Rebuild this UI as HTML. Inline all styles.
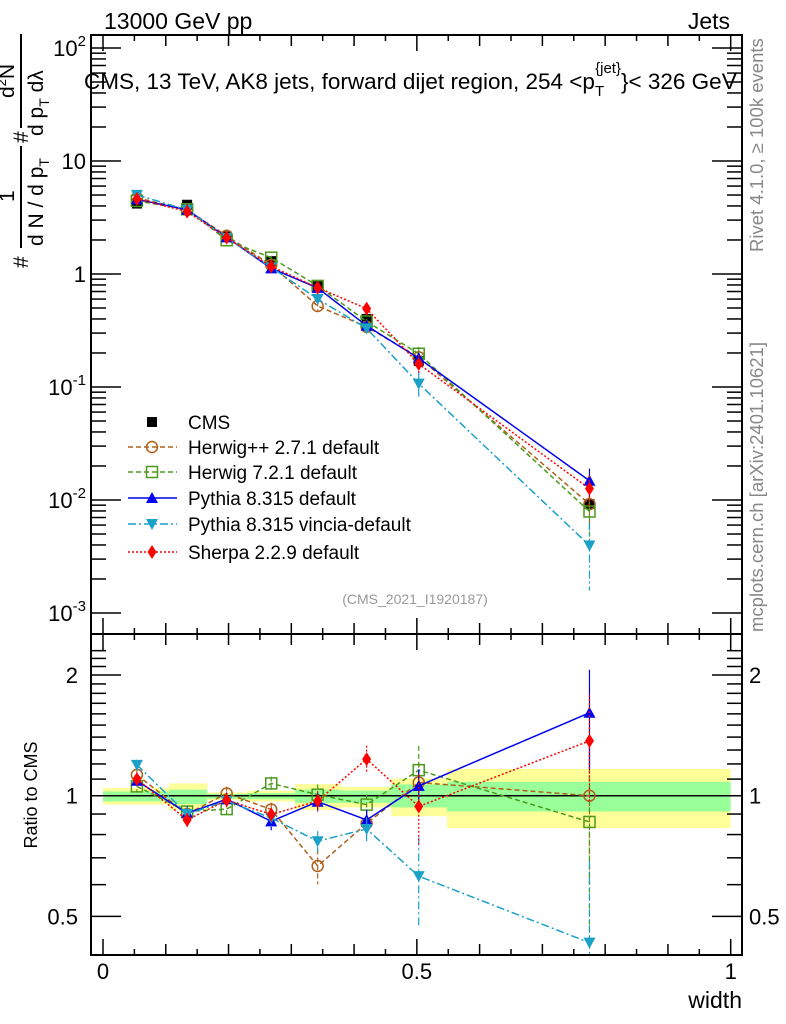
<!DOCTYPE html>
<html><head><meta charset="utf-8"><style>
html,body{margin:0;padding:0;background:#fff;}
svg{display:block;font-family:"Liberation Sans",sans-serif;}
</style></head><body>
<svg id="chart" width="786" height="1024" viewBox="0 0 786 1024" xmlns="http://www.w3.org/2000/svg">
<rect width="786" height="1024" fill="#fff"/>
<g id="bands"></g>
<g id="grid"></g>
<g id="series"></g>
<text x="104" y="29" font-size="23">13000 GeV pp</text>
<text x="730" y="29" font-size="23" text-anchor="end">Jets</text>
<text x="84" y="89" font-size="22.5">CMS, 13 TeV, AK8 jets, forward dijet region, 254 &lt;p<tspan font-size="15" dy="7">T</tspan><tspan font-size="15" dx="-9" dy="-23">{jet}</tspan><tspan dy="16">}&lt; 326 GeV</tspan></text>
<text x="415" y="604" font-size="14" fill="#999" text-anchor="middle">(CMS_2021_I1920187)</text>
<text transform="translate(763,252) rotate(-90)" font-size="18.5" fill="#888">Rivet 4.1.0, ≥ 100k events</text>
<text transform="translate(763,632) rotate(-90)" font-size="18.5" fill="#888">mcplots.cern.ch [arXiv:2401.10621]</text>
<g font-size="21">
<text transform="translate(28,268) rotate(-90)">#</text>
<line x1="21" y1="248" x2="21" y2="146" stroke="#000" stroke-width="2"/>
<text transform="translate(14,202) rotate(-90)">1</text>
<text transform="translate(43,246) rotate(-90)">d N / d p<tspan font-size="14" dy="6">T</tspan></text>
<text transform="translate(28,143) rotate(-90)">#</text>
<line x1="21" y1="128" x2="21" y2="34" stroke="#000" stroke-width="2"/>
<text transform="translate(14,98) rotate(-90)">d<tspan font-size="13" dy="-8">2</tspan><tspan dy="8">N</tspan></text>
<text transform="translate(43,136) rotate(-90)">d p<tspan font-size="14" dy="6">T</tspan><tspan dy="-6"> dλ</tspan></text>
</g>
<text transform="translate(37,795) rotate(-90)" font-size="18" text-anchor="middle">Ratio to CMS</text>
<text x="742" y="1008" font-size="23" text-anchor="end">width</text>
<g id="legend"></g>
</svg>
<script>
const binEdges=[0,0.105,0.166,0.229,0.306,0.379,0.459,0.548,1.0];
const xCenters=[0.054,0.134,0.197,0.268,0.342,0.420,0.503,0.775];
const cmsValues=[4.2,4.1,2.15,1.3,0.78,0.40,0.17,0.0092];
const cmsErr=[0.05,0.05,0.03,0.04,0.05,0.06,0.09,0.12];
const bandTotUp=[0.045,0.073,0.019,0.029,0.069,0.052,0.104,0.166];
const bandTotDn=[0.05,0.079,0.025,0.033,0.079,0.065,0.111,0.17];
const bandStatUp=[0.025,0.035,0.011,0.015,0.035,0.03,0.067,0.083];
const bandStatDn=[0.032,0.047,0.017,0.02,0.04,0.04,0.065,0.087];
const herwigppRatio=[1.127,0.90,1.013,0.924,0.668,0.853,1.079,1.0];
const herwig7Ratio=[1.055,0.913,0.926,1.073,1.006,0.95,1.158,0.86];
const pythiaRatio=[1.09,0.904,0.98,0.863,0.966,0.87,1.058,1.61];
const vinciaRatio=[1.194,0.90,0.97,0.88,0.77,0.826,0.63,0.43];
const sherpaRatio=[1.10,0.87,0.975,0.898,0.97,1.234,0.94,1.37];
const herwigppErr=[0.03,0.03,0.04,0.04,0.1,0.07,0.12,0.4];
const herwig7Err=[0.03,0.03,0.04,0.04,0.06,0.06,0.15,0.5];
const pythiaErr=[0.03,0.04,0.04,0.05,0.05,0.06,0.1,0.28];
const vinciaErr=[0.03,0.04,0.04,0.05,0.06,0.07,0.25,0.6];
const sherpaErr=[0.03,0.04,0.04,0.04,0.06,0.08,0.2,0.3];
const mainTicks=[0.001,0.01,0.1,1,10,100];
const mainTickLabels=["10^-3","10^-2","10^-1","1","10","10^2"];
const ratioTicks=[0.5,1,2];
const ratioTickLabels=["0.5","1","2"];
const xTicks=[0,0.5,1];
const xTickLabels=["0","0.5","1"];

const L=91,R=742,T=35,M=634,B=955;
const X=v=>103+v*627.7;
const YM=v=>274-113*Math.log10(v);
const YR=v=>795.7-120.7*Math.log2(v);
const NS="http://www.w3.org/2000/svg";
function mk(tag,attrs,parent){const e=document.createElementNS(NS,tag);for(const k in attrs)e.setAttribute(k,attrs[k]);parent.appendChild(e);return e;}
const bands=document.getElementById('bands'),grid=document.getElementById('grid'),series=document.getElementById('series'),legend=document.getElementById('legend');

for(let i=0;i<cmsValues.length;i++){
  const x1=X(binEdges[i]),x2=X(binEdges[i+1]);
  const y=mk('rect',{x:x1,y:YR(1+bandTotUp[i]),width:x2-x1,height:YR(1-bandTotDn[i])-YR(1+bandTotUp[i]),fill:'#ffff99'},bands);
  
  
  const g=mk('rect',{x:x1,y:YR(1+bandStatUp[i]),width:x2-x1,height:YR(1-bandStatDn[i])-YR(1+bandStatUp[i]),fill:'#99ff99'},bands);
  
  
}
mk('line',{x1:X(0),x2:X(1),y1:YR(1),y2:YR(1),stroke:'#000','stroke-width':1.5},grid);

mk('rect',{x:L,y:T,width:R-L,height:M-T,fill:'none',stroke:'#000','stroke-width':2},grid);
mk('rect',{x:L,y:M,width:R-L,height:B-M,fill:'none',stroke:'#000','stroke-width':2},grid);
for(let k=0;k<=20;k++){const v=k*0.05,x=X(v);const len=(k%10==0)?16:(k%2==0?11:6);
  [[M,-1],[T,1],[B,-1],[M,1]].forEach(([y0,d])=>mk('line',{x1:x,x2:x,y1:y0,y2:y0+d*len,stroke:'#000','stroke-width':1.5},grid));}
xTicks.forEach((v,i)=>{const t=mk('text',{x:X(v),y:979,'font-size':22,'text-anchor':'middle'},grid);t.textContent=xTickLabels[i];
  
  });
for(let e=-3;e<=2;e++){for(let m=1;m<=9;m++){const v=m*Math.pow(10,e);const y=YM(v);if(y<T||y>M)continue;const len=m==1?30:15;
  mk('line',{x1:L,x2:L+len,y1:y,y2:y,stroke:'#000','stroke-width':1.5},grid);mk('line',{x1:R,x2:R-len,y1:y,y2:y,stroke:'#000','stroke-width':1.5},grid);}}
mainTicks.forEach((v,i)=>{const y=YM(v);const lab=mainTickLabels[i];const t=mk('text',{x:86,y:y+8,'font-size':22,'text-anchor':'end'},grid);
  
  
  if(lab.indexOf('^')>0){const p=lab.split('^');t.appendChild(document.createTextNode(p[0]));const s=mk('tspan',{'font-size':15,dy:-10},t);s.textContent=p[1];}
  else t.textContent=lab;});
for(let v=0.4;v<=2.31;v+=0.1){const y=YR(v);if(y<M||y>B)continue;const big=Math.abs(v-0.5)<1e-6||Math.abs(v-1)<1e-6||Math.abs(v-2)<1e-6;const len=big?30:15;
  mk('line',{x1:L,x2:L+len,y1:y,y2:y,stroke:'#000','stroke-width':1.5},grid);mk('line',{x1:R,x2:R-len,y1:y,y2:y,stroke:'#000','stroke-width':1.5},grid);}
ratioTicks.forEach((v,i)=>{const y=YR(v)+8;
  const a=mk('text',{x:78,y:y,'font-size':22,'text-anchor':'end'},grid);a.textContent=ratioTickLabels[i];
  
  
  const b=mk('text',{x:749,y:y,'font-size':22},grid);b.textContent=ratioTickLabels[i];
  
  });

function marker(type,x,y,color,parent){
  if(type=='sq')return mk('rect',{x:x-5,y:y-5,width:10,height:10,fill:'#000'},parent);
  if(type=='osq')return mk('rect',{x:x-5.5,y:y-5.5,width:11,height:11,fill:'none',stroke:color,'stroke-width':1.5},parent);
  if(type=='oc')return mk('circle',{cx:x,cy:y,r:5.5,fill:'none',stroke:color,'stroke-width':1.5},parent);
  if(type=='tu')return mk('polygon',{points:`${x},${y-6} ${x-6},${y+5} ${x+6},${y+5}`,fill:color},parent);
  if(type=='td')return mk('polygon',{points:`${x},${y+6} ${x-6},${y-5} ${x+6},${y-5}`,fill:color},parent);
  if(type=='di')return mk('polygon',{points:`${x},${y-7} ${x-4.5},${y} ${x},${y+7} ${x+4.5},${y}`,fill:color},parent);
}
const models=[
 {name:'herwigpp',label:'Herwig++ 2.7.1 default',ratio:herwigppRatio,err:herwigppErr,color:'#b0601a',dash:'5,3',m:'oc'},
 {name:'herwig7',label:'Herwig 7.2.1 default',ratio:herwig7Ratio,err:herwig7Err,color:'#4a9a1a',dash:'5,3',m:'osq'},
 {name:'pythia',label:'Pythia 8.315 default',ratio:pythiaRatio,err:pythiaErr,color:'#0000ee',dash:'',m:'tu'},
 {name:'vincia',label:'Pythia 8.315 vincia-default',ratio:vinciaRatio,err:vinciaErr,color:'#1ba0c8',dash:'8,3,2,3',m:'td'},
 {name:'sherpa',label:'Sherpa 2.2.9 default',ratio:sherpaRatio,err:sherpaErr,color:'#ff0000',dash:'2,2',m:'di'}];

const cg=mk('g',{},series);


cmsValues.forEach((v,i)=>{const x=X(xCenters[i]);
  mk('line',{x1:x,x2:x,y1:YM(v*(1+cmsErr[i])),y2:YM(v*(1-cmsErr[i])),stroke:'#000','stroke-width':1.5},cg);
  const p=marker('sq',x,YM(v),'#000',cg);
  
  });

models.forEach(md=>{
  const g=mk('g',{},series);
  
  
  const vals=md.ratio.map((r,i)=>r*cmsValues[i]);
  const da=md.dash?{'stroke-dasharray':md.dash}:{};
  mk('polyline',Object.assign({points:vals.map((v,i)=>X(xCenters[i])+','+YM(v)).join(' '),fill:'none',stroke:md.color,'stroke-width':1.5},da),g);
  const pts=md.ratio.map((r,i)=>X(xCenters[i])+','+Math.min(B,YR(r))).join(' ');
  mk('polyline',Object.assign({points:pts,fill:'none',stroke:md.color,'stroke-width':1.5},da),g);
  vals.forEach((v,i)=>{const x=X(xCenters[i]);const e=md.err[i];
    const lo=Math.max(0.05,1-e);
    mk('line',Object.assign({x1:x,x2:x,y1:YM(v*(1+e)),y2:Math.min(M,YM(v*lo)),stroke:md.color,'stroke-width':1.2},da),g);
    const r=md.ratio[i];
    mk('line',Object.assign({x1:x,x2:x,y1:Math.max(M,YR(r*(1+e))),y2:Math.min(B,YR(r*lo)),stroke:md.color,'stroke-width':1.2},da),g);
    const a=marker(md.m,x,YM(v),md.color,g);
    
    
    const b=marker(md.m,x,Math.min(B-4,YR(r)),md.color,g);
    
    
  });
});
const ly=[422,447,472,498,524,552];
const le0=mk('g',{},legend);


marker('sq',152,ly[0],'#000',le0);
const t0=mk('text',{x:188,y:ly[0]+7,'font-size':19},le0);t0.textContent='CMS';
models.forEach((md,i)=>{const g=mk('g',{},legend);
  
  
  const y=ly[i+1];const da=md.dash?{'stroke-dasharray':md.dash}:{};
  mk('line',Object.assign({x1:128,x2:177,y1:y,y2:y,stroke:md.color,'stroke-width':1.5},da),g);
  marker(md.m,152,y,md.color,g);
  const t=mk('text',{x:188,y:y+7,'font-size':19},g);t.textContent=md.label;});
</script>
</body></html>
